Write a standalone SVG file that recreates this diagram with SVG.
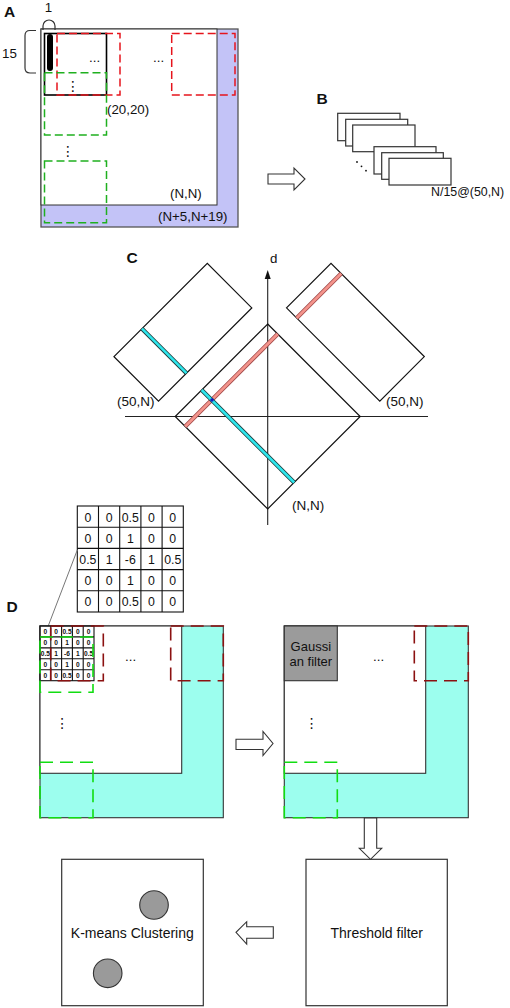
<svg xmlns="http://www.w3.org/2000/svg" width="510" height="1008" viewBox="0 0 510 1008">
<style>
text{font-family:"Liberation Sans",Arial,sans-serif;fill:#111}
.lbl{font-size:13.3px}
.pl{font-size:15.5px;font-weight:bold}
.k{font-size:12.3px;text-anchor:middle}
.ks{font-size:6.6px;text-anchor:middle;font-weight:bold}
.box{fill:#fff;stroke:#333;stroke-width:1.2}
.redA{fill:none;stroke:#e6141c;stroke-width:1.5;stroke-dasharray:8 4}
.grnA{fill:none;stroke:#1fb01f;stroke-width:1.5;stroke-dasharray:8 4}
.redD{fill:none;stroke:#8b1111;stroke-width:1.6;stroke-dasharray:13 7}
.grnD{fill:none;stroke:#11dd11;stroke-width:1.6;stroke-dasharray:13 7}
.arr{fill:#fff;stroke:#333;stroke-width:1.1}
.cell{fill:none;stroke:#111;stroke-width:1.1}
.vd{font-family:"DejaVu Sans",sans-serif;font-size:14px;text-anchor:middle}
.c14{font-size:14px;text-anchor:middle}
</style>

<g id="panelA">
  <text class="pl" x="4" y="17">A</text>
  <rect x="41" y="29" width="197" height="198" fill="#c3c3f7" stroke="#555" stroke-width="1.3"/>
  <rect x="41" y="29" width="176" height="176" fill="#fff" stroke="#333" stroke-width="1"/>
  <rect x="44.5" y="33.5" width="62" height="61.5" fill="none" stroke="#000" stroke-width="1.6"/>
  <rect x="47" y="34" width="6" height="37" rx="3" fill="#000"/>
  <rect class="redA" x="57" y="33.5" width="63" height="61.5"/>
  <rect class="redA" x="171.7" y="33.5" width="63.3" height="61.5"/>
  <rect class="grnA" x="44.5" y="72.7" width="62" height="62.3"/>
  <rect class="grnA" x="44.5" y="161" width="62" height="61.7"/>
  <path d="M43,30 L43,26 A6,6 0 0 1 55,26 L55,30" fill="none" stroke="#333" stroke-width="1.2"/>
  <path d="M36,30.5 L30,30.5 Q25,30.5 25,35.5 L25,68 Q25,73 30,73 L36,73" fill="none" stroke="#333" stroke-width="1.2"/>
  <text class="lbl" x="48.5" y="12" text-anchor="middle">1</text>
  <text class="lbl" x="2" y="58">15</text>
  <text class="lbl" x="89" y="62">...</text>
  <text class="lbl" x="153" y="62">...</text>
  <text class="vd" x="73" y="91">⋮</text>
  <text class="vd" x="68" y="156">⋮</text>
  <text class="lbl" x="107" y="114">(20,20)</text>
  <text class="lbl" x="170" y="198">(N,N)</text>
  <text class="lbl" x="158" y="221" font-size="13.6">(N+5,N+19)</text>
</g>

<g id="panelB">
  <text class="pl" x="316.5" y="103.5">B</text>
  <rect class="box" x="337.7" y="113.3" width="62.3" height="27.4"/>
  <rect class="box" x="345.7" y="119.3" width="62" height="26.7"/>
  <rect class="box" x="352.7" y="125" width="62.3" height="26.7"/>
  <rect class="box" x="374" y="146.7" width="62" height="27.3"/>
  <rect class="box" x="381.7" y="152.7" width="61.6" height="26.6"/>
  <rect class="box" x="389" y="158.3" width="62" height="26.7"/>
  <circle cx="357" cy="162" r="0.9" fill="#111"/>
  <circle cx="361.5" cy="166.3" r="0.9" fill="#111"/>
  <circle cx="366" cy="170.7" r="0.9" fill="#111"/>
  <text x="431" y="196" font-size="12.4">N/15@(50,N)</text>
</g>

<g id="panelC">
  <text class="pl" x="126.5" y="263">C</text>
  <text class="lbl" x="270" y="263">d</text>
  <line x1="267.7" y1="278" x2="267.7" y2="525" stroke="#222" stroke-width="1.1"/>
  <polygon points="267.7,270 264.7,279 270.7,279" fill="#111"/>
  <line x1="125" y1="416.5" x2="428" y2="416.5" stroke="#222" stroke-width="1.1"/>
  <polygon points="267.7,324 360.2,416.5 267.7,509 175.2,416.5" fill="none" stroke="#111" stroke-width="1.2"/>
  <polygon points="114,356.7 207.3,263.4 251.8,307.9 158.5,401.2" fill="#fff" stroke="#111" stroke-width="1.2"/>
  <polygon points="286.5,307.8 331,263.3 424.3,356.6 379.8,401.1" fill="#fff" stroke="#111" stroke-width="1.2"/>
  <line x1="142" y1="328.7" x2="186.5" y2="373.2" stroke="#1a3a3a" stroke-width="4.2"/>
  <line x1="142" y1="328.7" x2="186.5" y2="373.2" stroke="#2ee6ec" stroke-width="2.6"/>
  <line x1="296.7" y1="318" x2="341.2" y2="273.5" stroke="#a04848" stroke-width="4.2"/>
  <line x1="296.7" y1="318" x2="341.2" y2="273.5" stroke="#f4948c" stroke-width="2.6"/>
  <line x1="185.2" y1="426.5" x2="277.7" y2="334" stroke="#a04848" stroke-width="4.2"/>
  <line x1="185.2" y1="426.5" x2="277.7" y2="334" stroke="#f4948c" stroke-width="2.6"/>
  <line x1="201.7" y1="390" x2="294.2" y2="482.5" stroke="#1a3a3a" stroke-width="4.2"/>
  <line x1="201.7" y1="390" x2="294.2" y2="482.5" stroke="#2ee6ec" stroke-width="2.6"/>
  <circle cx="212" cy="400" r="1.8" fill="#1020c0"/>
  <text x="117" y="406" font-size="13.5">(50,N)</text>
  <text x="386" y="406" font-size="13.5">(50,N)</text>
  <text x="292" y="510" font-size="13.5">(N,N)</text>
</g>

<g id="kernel">
  <rect x="77.3" y="506" width="106" height="106" class="cell"/>
  <path d="M98.5,506V612M119.7,506V612M140.9,506V612M162.1,506V612M77.3,527.2H183.3M77.3,548.4H183.3M77.3,569.6H183.3M77.3,590.8H183.3" class="cell"/>
  <g class="k">
    <text x="87.9" y="521.5">0</text><text x="109.1" y="521.5">0</text><text x="130.3" y="521.5">0.5</text><text x="151.5" y="521.5">0</text><text x="172.7" y="521.5">0</text>
    <text x="87.9" y="542.7">0</text><text x="109.1" y="542.7">0</text><text x="130.3" y="542.7">1</text><text x="151.5" y="542.7">0</text><text x="172.7" y="542.7">0</text>
    <text x="87.9" y="563.9">0.5</text><text x="109.1" y="563.9">1</text><text x="130.3" y="563.9">-6</text><text x="151.5" y="563.9">1</text><text x="172.7" y="563.9">0.5</text>
    <text x="87.9" y="585.1">0</text><text x="109.1" y="585.1">0</text><text x="130.3" y="585.1">1</text><text x="151.5" y="585.1">0</text><text x="172.7" y="585.1">0</text>
    <text x="87.9" y="606.3">0</text><text x="109.1" y="606.3">0</text><text x="130.3" y="606.3">0.5</text><text x="151.5" y="606.3">0</text><text x="172.7" y="606.3">0</text>
  </g>
  <line x1="77.3" y1="550" x2="48" y2="626.5" stroke="#777" stroke-width="1"/>
</g>

<g id="panelD-left">
  <text class="pl" x="6.5" y="611.5">D</text>
  <rect x="40" y="626" width="183.3" height="191.7" fill="#9cfeee" stroke="#333" stroke-width="1.1"/>
  <rect x="40" y="626" width="141.7" height="147.3" fill="#fff" stroke="#333" stroke-width="1.1"/>
  <rect x="40" y="626" width="54" height="54.7" class="cell" stroke-width="0.9"/>
  <path d="M50.8,626V680.7M61.6,626V680.7M72.4,626V680.7M83.2,626V680.7M40,636.9H94M40,647.9H94M40,658.8H94M40,669.8H94" class="cell" stroke-width="0.9"/>
  <g class="ks">
    <text x="45.4" y="634">0</text><text x="56.2" y="634">0</text><text x="67" y="634">0.5</text><text x="77.8" y="634">0</text><text x="88.6" y="634">0</text>
    <text x="45.4" y="644.9">0</text><text x="56.2" y="644.9">0</text><text x="67" y="644.9">1</text><text x="77.8" y="644.9">0</text><text x="88.6" y="644.9">0</text>
    <text x="45.4" y="655.8">0.5</text><text x="56.2" y="655.8">1</text><text x="67" y="655.8">-6</text><text x="77.8" y="655.8">1</text><text x="88.6" y="655.8">0.5</text>
    <text x="45.4" y="666.8">0</text><text x="56.2" y="666.8">0</text><text x="67" y="666.8">1</text><text x="77.8" y="666.8">0</text><text x="88.6" y="666.8">0</text>
    <text x="45.4" y="677.7">0</text><text x="56.2" y="677.7">0</text><text x="67" y="677.7">0.5</text><text x="77.8" y="677.7">0</text><text x="88.6" y="677.7">0</text>
  </g>
  <rect class="redD" x="50.7" y="626" width="52.6" height="54.7"/>
  <rect class="redD" x="170.7" y="626" width="52.6" height="54.7"/>
  <rect class="grnD" x="40" y="637" width="53" height="55.3"/>
  <rect class="grnD" x="40" y="762.3" width="53" height="55.4"/>
  <text class="lbl" x="125" y="661">...</text>
  <text class="vd" x="62.3" y="728">⋮</text>
</g>

<g id="panelD-right">
  <rect x="284.3" y="626" width="184" height="191.7" fill="#9cfeee" stroke="#333" stroke-width="1.1"/>
  <rect x="284.3" y="626" width="141.4" height="147.3" fill="#fff" stroke="#333" stroke-width="1.1"/>
  <rect x="284.3" y="626" width="53" height="54.7" fill="#9b9b9b" stroke="#333" stroke-width="1.1"/>
  <text x="310.8" y="651" font-size="13" text-anchor="middle">Gaussi</text>
  <text x="310.8" y="666" font-size="13" text-anchor="middle">an filter</text>
  <rect class="redD" x="414.3" y="626" width="54" height="54.7"/>
  <rect class="grnD" x="284.3" y="762.3" width="53" height="55.4"/>
  <text class="lbl" x="373" y="661">...</text>
  <text class="vd" x="311.7" y="728">⋮</text>
</g>

<g id="threshold">
  <rect class="box" x="306" y="859.3" width="141.3" height="146.4"/>
  <text class="c14" x="376.7" y="938">Threshold filter</text>
</g>

<g id="kmeans">
  <rect class="box" x="61.7" y="859.3" width="141.6" height="146.4"/>
  <circle cx="154" cy="905" r="14.3" fill="#9a9a9a" stroke="#333" stroke-width="1.1"/>
  <circle cx="107.7" cy="973.3" r="14.3" fill="#9a9a9a" stroke="#333" stroke-width="1.1"/>
  <text class="c14" x="132.3" y="938">K-means Clustering</text>
</g>

<g id="connectors">
  <polygon class="arr" points="268,174 294,174 294,168 305,179 294,190 294,184 268,184"/>
  <polygon class="arr" points="236,739.3 263,739.3 263,731.5 273,743.5 263,755.5 263,749.5 236,749.5"/>
  <polygon class="arr" points="364.3,818 376.7,818 376.7,848.3 381.7,848.3 370.5,859.3 359.3,848.3 364.3,848.3"/>
  <polygon class="arr" points="273.3,926.7 246.7,926.7 246.7,921.7 236,932.3 246.7,944 246.7,938.3 273.3,938.3"/>
</g>
</svg>
